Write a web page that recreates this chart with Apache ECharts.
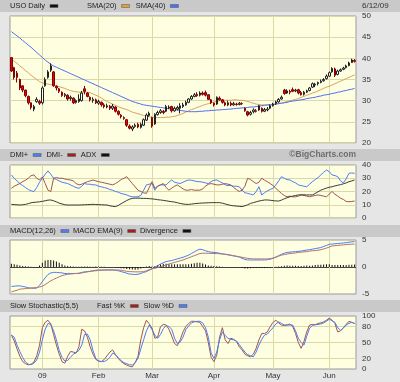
<!DOCTYPE html>
<html>
<head>
<meta charset="utf-8">
<script src="https://cdn.jsdelivr.net/npm/echarts@6/dist/echarts.min.js"></script>
<style>html,body{margin:0;padding:0;background:#e6e6e6;}#c{width:400px;height:382px;}</style>
</head>
<body>
<div id="c"></div>
<script>
const dates = [
'2008-12-16','2008-12-17','2008-12-18','2008-12-19','2008-12-22','2008-12-23','2008-12-24','2008-12-26','2008-12-29','2008-12-30','2008-12-31',
'2009-01-02','2009-01-05','2009-01-06','2009-01-07','2009-01-08','2009-01-09','2009-01-12','2009-01-13','2009-01-14','2009-01-15','2009-01-16','2009-01-20','2009-01-21','2009-01-22','2009-01-23','2009-01-26','2009-01-27','2009-01-28','2009-01-29','2009-01-30',
'2009-02-02','2009-02-03','2009-02-04','2009-02-05','2009-02-06','2009-02-09','2009-02-10','2009-02-11','2009-02-12','2009-02-13','2009-02-17','2009-02-18','2009-02-19','2009-02-20','2009-02-23','2009-02-24','2009-02-25','2009-02-26','2009-02-27',
'2009-03-02','2009-03-03','2009-03-04','2009-03-05','2009-03-06','2009-03-09','2009-03-10','2009-03-11','2009-03-12','2009-03-13','2009-03-16','2009-03-17','2009-03-18','2009-03-19','2009-03-20','2009-03-23','2009-03-24','2009-03-25','2009-03-26','2009-03-27','2009-03-30','2009-03-31',
'2009-04-01','2009-04-02','2009-04-03','2009-04-06','2009-04-07','2009-04-08','2009-04-09','2009-04-13','2009-04-14','2009-04-15','2009-04-16','2009-04-17','2009-04-20','2009-04-21','2009-04-22','2009-04-23','2009-04-24','2009-04-27','2009-04-28','2009-04-29','2009-04-30',
'2009-05-01','2009-05-04','2009-05-05','2009-05-06','2009-05-07','2009-05-08','2009-05-11','2009-05-12','2009-05-13','2009-05-14','2009-05-15','2009-05-18','2009-05-19','2009-05-20','2009-05-21','2009-05-22','2009-05-26','2009-05-27','2009-05-28','2009-05-29',
'2009-06-01','2009-06-02','2009-06-03','2009-06-04','2009-06-05','2009-06-08','2009-06-09','2009-06-10','2009-06-11','2009-06-12'];

const open = [40.2,37.8,36.5,35.0,33.5,32.5,31.0,29.5,28.0,29.8,29.8,
29.5,33.5,35.5,37.2,36.8,33.4,32.8,32.0,31.2,31.3,30.5,30.6,29.6,29.8,30.0,32.8,31.8,30.8,30.0,30.2,
29.4,29.6,29.0,28.5,28.7,28.2,28.5,27.5,26.6,26.0,25.5,24.0,23.3,23.9,24.4,23.7,24.2,25.4,26.5,
26.0,24.5,26.7,27.2,27.5,27.5,28.3,28.6,27.6,28.0,28.2,28.6,29.0,29.6,30.4,31.0,31.5,31.3,31.8,31.9,31.4,30.2,
29.4,29.2,30.6,30.2,29.5,29.0,29.4,29.0,29.2,29.1,29.3,28.2,27.4,26.8,27.4,27.6,27.8,28.2,27.5,27.8,28.2,
28.8,29.3,29.7,30.4,32.5,31.8,32.2,32.6,32.3,32.6,31.9,31.5,32.0,32.4,33.2,33.7,34.0,34.3,34.7,35.2,
35.8,36.8,37.5,36.2,37.0,37.4,37.8,38.3,39.0,39.5];
const close = [37.0,35.5,35.5,33.0,32.5,31.2,29.5,28.4,28.6,30.3,29.4,
33.0,35.0,36.8,38.2,33.5,33.0,32.2,31.2,31.5,30.4,30.8,29.5,30.0,30.4,31.8,32.2,31.0,30.2,30.3,29.5,
29.8,29.0,28.6,28.8,28.2,28.7,27.5,26.8,26.2,25.8,24.2,23.5,23.8,24.2,23.8,24.4,25.5,26.6,27.0,
24.0,26.8,27.2,27.6,27.2,28.6,28.5,27.6,28.2,28.4,28.8,29.0,29.6,30.4,31.0,31.4,31.2,31.8,31.5,31.3,30.3,29.5,
29.0,30.8,30.2,29.6,29.0,29.5,29.0,29.3,29.1,29.4,29.3,27.6,26.6,27.2,27.8,27.5,28.8,27.5,27.9,28.0,28.8,
29.2,29.7,30.3,30.8,31.7,32.3,32.0,32.2,32.5,31.8,31.4,32.0,32.3,33.0,34.0,33.9,34.3,34.6,35.0,35.8,
36.6,37.6,36.0,37.0,37.3,37.7,38.2,38.9,39.6,39.3];
const low = [36.8,35.0,34.3,32.5,32.0,30.8,29.1,27.9,27.5,29.5,29.0,
29.1,33.3,35.2,36.8,33.3,32.4,31.8,30.9,30.8,30.0,30.0,29.2,29.3,29.5,29.8,31.5,30.8,29.8,29.5,29.2,
29.0,28.6,28.2,28.2,27.8,27.8,27.2,26.5,25.8,25.5,23.8,23.2,22.8,23.6,23.5,23.4,24.0,25.2,26.2,
23.6,24.3,26.5,26.9,26.8,27.3,28.0,27.2,27.4,27.7,27.0,28.3,28.8,29.4,30.2,30.8,30.9,31.0,31.2,31.0,30.2,29.2,
28.6,29.0,30.0,29.3,28.7,28.7,28.7,28.8,28.8,28.9,29.0,27.4,26.3,26.5,27.0,27.2,27.6,27.2,27.3,27.5,28.0,
28.6,29.0,29.5,30.2,31.4,31.6,31.5,32.0,32.0,31.5,31.2,31.2,31.8,32.2,33.0,33.2,33.6,34.1,34.5,35.0,
35.6,36.6,35.6,36.0,36.8,37.2,37.6,38.1,38.9,39.0];
const high = [40.3,38.0,37.0,35.2,33.6,32.6,31.2,29.6,29.0,30.8,30.2,
33.4,35.5,37.2,38.8,37.0,33.6,33.0,32.2,31.8,31.5,31.2,30.8,30.3,31.5,32.3,33.5,32.0,31.0,30.8,30.5,
30.2,29.8,29.4,29.3,29.0,29.2,28.7,27.7,26.8,26.3,25.7,24.4,24.2,24.6,24.8,24.8,25.8,27.0,27.4,
26.2,27.0,27.6,28.0,27.8,29.0,28.9,28.8,28.6,28.8,29.4,29.5,30.0,30.6,31.3,31.8,32.0,32.2,32.2,32.4,31.5,30.4,
29.6,31.0,31.0,30.4,29.8,30.0,29.8,29.7,29.5,29.7,29.6,28.4,27.6,27.6,28.2,28.0,29.0,28.4,28.3,28.5,29.1,
29.5,30.0,30.6,31.2,32.8,32.7,32.6,33.1,32.8,32.8,32.3,32.3,32.6,33.2,34.3,34.2,34.5,35.0,35.3,36.2,
36.9,37.9,37.8,37.3,37.6,38.0,38.5,39.2,39.9,39.8];

const sma20 = [39.8,39.3,38.8,38.2,37.7,37.1,36.6,36.0,35.5,35.0,34.5,
34.2,34.0,33.9,33.8,33.7,33.5,33.3,33.1,32.9,32.6,32.4,32.2,32.1,32.0,32.0,32.0,32.0,31.9,31.6,31.3,
31.0,30.6,30.2,29.8,29.5,29.2,28.9,28.6,28.3,28.1,27.9,27.6,27.3,27.1,26.9,26.7,26.5,26.3,26.2,
26.1,26.0,26.0,26.0,26.0,26.1,26.1,26.2,26.3,26.5,26.7,27.0,27.3,27.6,27.9,28.1,28.4,28.6,28.9,29.1,29.3,29.5,
29.7,29.8,30.0,30.1,30.1,30.1,30.1,30.2,30.2,30.1,30.1,30.0,29.8,29.6,29.4,29.2,29.1,29.0,29.0,29.0,29.0,
29.1,29.2,29.3,29.4,29.6,29.8,30.0,30.1,30.3,30.5,30.8,31.0,31.3,31.5,31.8,32.0,32.3,32.6,32.9,33.2,
33.4,33.7,34.0,34.3,34.6,34.9,35.2,35.5,35.8,36.1];
const sma40 = [46.3,45.8,45.3,44.8,44.2,43.7,43.1,42.6,42.0,41.4,40.8,
40.2,39.6,39.1,38.6,38.2,37.9,37.6,37.3,37.0,36.7,36.4,36.1,35.8,35.5,35.2,34.9,34.6,34.3,34.0,33.7,
33.4,33.1,32.8,32.5,32.2,31.9,31.6,31.3,31.0,30.7,30.4,30.1,29.8,29.6,29.4,29.2,29.0,28.9,28.8,
28.7,28.6,28.5,28.4,28.3,28.2,28.1,28.0,27.9,27.8,27.7,27.6,27.5,27.4,27.4,27.4,27.4,27.5,27.5,27.6,27.6,27.7,
27.7,27.8,27.8,27.9,27.9,28.0,28.0,28.1,28.2,28.2,28.3,28.3,28.4,28.5,28.5,28.6,28.7,28.8,28.9,29.0,29.0,
29.1,29.2,29.3,29.4,29.5,29.6,29.8,29.9,30.0,30.1,30.2,30.3,30.5,30.6,30.7,30.8,31.0,31.1,31.3,31.4,
31.5,31.7,31.8,32.0,32.1,32.3,32.4,32.6,32.7,32.9];

const dmiPlus = [32.5,30,28,26,24.5,23,21.5,20.5,20,23,27,
30,33,35.5,33,30,29,28,27,26.5,26,25,24,23,22.4,24,26,25.5,25.5,25,25,
24,23.5,23,22.4,21.5,21,20,19.5,18.5,18,17.4,16.5,16,16,16,17,21,25,25.5,
26,21,24,25,25,25,27,28.7,27,26.5,26,27,28,28.7,28.5,28,27.5,27.4,27,26.5,26,27.5,
28.5,28.7,27.5,26.5,25,24.5,24.5,24,24,23.6,21,19,18.6,18,17.4,20,23.6,17.4,19,20.5,21.5,
22.4,25,28,31.2,30,29,28.7,27.5,26.5,25,24.5,24,23.6,25.5,27.4,29,30.5,32.5,34.5,36.2,
35,32.5,32,31.2,28,26.5,29.5,33.7,34,33.7];
const dmiMinus = [22.4,24,25,26,27.5,28.5,30,32,32.5,30,28.7,
31,26,21,20,30,30.5,30,30,29.5,29,28.7,28,26,25,25.5,26.5,27.4,28,28.7,28,
27.4,27,26.5,26,25.5,25,26,27.4,29,30,31.2,28.5,26,23.5,21,20,19,18.6,23,
27.4,22.4,24,25,26,23,21,22.5,24,25,23.5,22,21,21,21.5,21,21,21,22,24,25.5,26,
25.5,25,25,25.5,26,25.5,25,23,21.5,20,21,24,30,29,27.5,26,27,30,28.5,27.4,26,
24.5,22.4,20.5,18.5,17,16,16.5,16,16,16.5,17.4,17,16.5,16,16.5,17,17.4,17,16.5,16,
18,20,18,16.5,15,14,12.5,12.3,12.5,12.8];
const adx = [10.3,10.1,10,9.8,10,10.3,10.8,11.5,11.8,12,12.2,
12.6,13,13.5,13.6,13,12.2,11.2,10.6,10,9.8,9.8,9.8,9.8,9.8,9.9,10,10.1,10.2,10.3,10.2,
10.1,10,9.9,9.8,9.2,8.8,8.6,9.5,10.8,12,13.2,14.2,14.8,15,15,14.9,14.8,14.8,14.6,
14.4,14.2,13.8,13.6,13.3,13,12.6,12.3,12,11.5,11,10.6,10.3,10.3,10.5,10.8,11,11.2,11.3,11.4,11.5,11.6,
11.6,11.6,11.6,11.2,10.6,10,9.5,9.2,9,8.8,8.6,9.2,10,11,11.6,12.2,12.8,13.2,13.6,13.6,13.4,
13.1,12.9,12.8,13.5,14.5,15.3,16,16.5,17,17.4,17.5,17.5,17.4,17.4,17.4,18.5,19.8,21,21.8,22.6,
23.2,23.6,24.2,24.7,25.2,25.8,26.5,27.4,28,28.7];

const macd = [-3.6,-3.55,-3.5,-3.5,-3.6,-3.7,-3.85,-3.9,-3.95,-3.9,-3.4,
-2.7,-2.0,-1.4,-1.1,-1.0,-1.0,-1.05,-1.1,-1.2,-1.2,-1.2,-1.2,-1.2,-1.15,-1.0,-0.9,-0.85,-0.8,-0.7,-0.6,
-0.55,-0.55,-0.55,-0.55,-0.55,-0.55,-0.6,-0.7,-0.85,-1.0,-1.15,-1.3,-1.35,-1.4,-1.35,-1.2,-1.0,-0.85,-0.6,
-0.35,-0.05,0.25,0.55,0.8,1.0,1.1,1.2,1.35,1.5,1.65,1.8,2.0,2.2,2.5,2.8,3.1,3.3,3.2,3.0,2.85,2.75,
2.7,2.65,2.55,2.45,2.35,2.25,2.15,2.05,1.95,1.85,1.6,1.4,1.3,1.3,1.3,1.3,1.3,1.3,1.3,1.35,1.45,
1.6,1.85,2.1,2.35,2.55,2.7,2.75,2.8,2.85,2.9,2.95,3.05,3.15,3.2,3.3,3.4,3.5,3.6,3.8,4.0,
4.2,4.25,4.3,4.35,4.4,4.45,4.5,4.6,4.65,4.7];
const macdEma = [-4.6,-4.45,-4.3,-4.1,-4.05,-4.0,-3.95,-3.9,-3.85,-3.8,-3.7,
-3.55,-3.25,-2.9,-2.55,-2.3,-2.05,-1.8,-1.6,-1.45,-1.35,-1.3,-1.25,-1.2,-1.2,-1.1,-1.0,-0.9,-0.8,-0.74,-0.7,
-0.65,-0.6,-0.58,-0.55,-0.55,-0.55,-0.55,-0.55,-0.6,-0.7,-0.8,-0.85,-0.87,-0.9,-0.9,-0.9,-0.85,-0.7,-0.5,
-0.3,-0.25,-0.1,0.05,0.2,0.4,0.55,0.7,0.85,1.0,1.15,1.3,1.5,1.7,1.9,2.1,2.3,2.5,2.55,2.55,2.55,2.5,
2.5,2.5,2.45,2.4,2.35,2.3,2.2,2.1,2.0,1.9,1.8,1.7,1.6,1.55,1.5,1.5,1.5,1.5,1.5,1.5,1.55,
1.65,1.8,2.0,2.2,2.3,2.4,2.5,2.55,2.6,2.7,2.75,2.8,2.85,2.95,3.0,3.05,3.1,3.2,3.35,3.5,
3.7,3.9,3.95,4.0,4.05,4.1,4.15,4.2,4.22,4.25];
const divergence = [0.6,0.5,0.4,0.3,0.2,0.15,0.1,0.05,-0.1,-0.1,0.3,
0.8,1.2,1.3,1.3,1.2,1.0,0.8,0.5,0.3,0.2,0.15,0.1,0.05,0.05,0.1,0.1,0.1,0.05,0.05,0.1,
0.1,0.05,0.05,0,0,0,-0.05,-0.15,-0.25,-0.3,-0.35,-0.4,-0.45,-0.5,-0.45,-0.3,-0.15,0.1,0.2,
0.1,0.2,0.35,0.5,0.6,0.6,0.55,0.5,0.5,0.5,0.5,0.5,0.5,0.5,0.6,0.7,0.8,0.8,0.65,0.45,0.3,0.25,
0.2,0.15,0.1,0.05,0,-0.05,-0.05,-0.05,-0.05,-0.05,-0.2,-0.3,-0.3,-0.25,-0.2,-0.2,-0.2,-0.2,-0.2,-0.15,-0.1,
-0.05,0.05,0.1,0.15,0.25,0.3,0.25,0.25,0.25,0.2,0.2,0.25,0.3,0.25,0.3,0.35,0.4,0.4,0.45,0.5,
0.5,0.35,0.35,0.35,0.35,0.35,0.35,0.4,0.43,0.45];

const fastK = [64,53,38,24,14,10,8,9,13,25,45,
78,88,92,85,65,45,28,14,11,24,33,32,30,42,75,72,60,42,28,18,
15,14,18,25,32,36,27,20,14,10,7.5,5,4,12,24,55,78,92,85,
77,58,60,80,84,83,75,62,48,44,55,70,80,86,90,90,89,88,80,72,50,22,
14,26,60,78,55,48,58,56,52,42,36,28,25,23,28,39,55,67,67,70,80,
88,92,87,83,82,83,85,80,67,50,39,52,70,83,84,83,86,87,89,92,
96,92,86,70,72,78,84,90,88,86];
const slowD = [64,60,45,33,22,13,9,8,11,17,32,
55,75,86,84,72,55,35,22,15,16,22,28,31,35,45,65,66,55,35,20,
15,14,14,17,22,30,27,21,16,12,10,8,7.5,12,20,38,55,72,83,
74,64,58,65,76,82,80,75,58,48,51,60,74,81,87,89,90,90,87,78,60,30,
20,32,55,70,63,58,56,55,53,46,39,32,27,25,23,32,45,56,64,66,72,
78,85,89,86,83,83,83,83,72,58,50,45,62,77,82,84,84,85,87,90,
94,91,88,78,73,77,83,86,88,86];

const monthNames = {'01':'09','02':'Feb','03':'Mar','04':'Apr','05':'May','06':'Jun','12':'Dec'};
const stochTicks = [0,20,50,80,100];

const isMonthStart = i => i > 0 && dates[i].slice(0,7) !== dates[i-1].slice(0,7);

const FONT = 'Liberation Sans';
const GRIDC = '#dcd9a8';
const T = 'rgba(0,0,0,0)';
const grids = [
  {left:10, width:346, top:16, height:127},
  {left:10, width:346, top:165, height:53},
  {left:10, width:346, top:240, height:54},
  {left:10, width:346, top:316, height:53}
].map(g => Object.assign(g, {show:true, backgroundColor:'#fefee1', borderColor:'#9a9a9a', borderWidth:1}));

const xAxes = [0,1,2,3].map(g => ({
  type:'category', gridIndex:g, data:dates, boundaryGap:true,
  axisLine:{show:false}, axisTick:{show:false},
  axisLabel:{show:g===3, interval:(i)=>isMonthStart(i), formatter:(v)=>monthNames[v.slice(5,7)],
    fontSize:8, color:'#333', fontFamily:FONT, margin:3},
  splitLine:{show:true, alignWithLabel:true, interval:(i)=>isMonthStart(i), lineStyle:{color:GRIDC, width:1}}
}));

const ylab = {fontSize:8, color:'#333', fontFamily:FONT, margin:6};
const yAxes = [
  {gridIndex:0, type:'value', position:'right', min:20, max:50, interval:5,
   axisLine:{show:false}, axisTick:{show:false}, axisLabel:ylab, splitLine:{lineStyle:{color:GRIDC}}},
  {gridIndex:1, type:'value', position:'right', min:0, max:40, interval:10,
   axisLine:{show:false}, axisTick:{show:false}, axisLabel:ylab, splitLine:{lineStyle:{color:GRIDC}}},
  {gridIndex:2, type:'value', position:'right', min:-5, max:5, interval:5,
   axisLine:{show:false}, axisTick:{show:false}, axisLabel:ylab, splitLine:{lineStyle:{color:[T,'#444',T]}}},
  {gridIndex:3, type:'value', position:'right', min:0, max:100, interval:10,
   axisLine:{show:false}, axisTick:{show:false},
   axisLabel:Object.assign({}, ylab, {formatter:(v)=>stochTicks.indexOf(v) >= 0 ? String(v) : ''}),
   splitLine:{lineStyle:{color:[T,T,GRIDC,T,T,GRIDC,T,T,GRIDC,T,T]}}}
];

const line = (name, data, color, g) => ({
  name, type:'line', data, xAxisIndex:g, yAxisIndex:g, showSymbol:false, symbol:'none',
  lineStyle:{color, width:1}, itemStyle:{color}, silent:true, z:3
});

const C = {sma20:'#d9a35e', sma40:'#4f6ff0', plus:'#4d7cf5', minus:'#a0554e', adx:'#3a3a3a',
  macd:'#4d7cf5', ema:'#b0766c', k:'#a0554e', d:'#4d7cf5'};

const series = [
  {name:'USO Daily', type:'candlestick', xAxisIndex:0, yAxisIndex:0, barWidth:2,
   data: dates.map((d,i)=>[open[i], close[i], low[i], high[i]]),
   itemStyle:{color:'#ffffff', color0:'#cc1010', borderColor:'#222', borderColor0:'#8a0000', borderWidth:1}, z:4},
  line('SMA(20)', sma20, C.sma20, 0),
  line('SMA(40)', sma40, C.sma40, 0),
  line('DMI+', dmiPlus, C.plus, 1),
  line('DMI-', dmiMinus, C.minus, 1),
  line('ADX', adx, C.adx, 1),
  {name:'Divergence', type:'bar', xAxisIndex:2, yAxisIndex:2, data:divergence, barWidth:1,
   itemStyle:{color:'#111'}, silent:true, z:2},
  line('MACD(12,26)', macd, C.macd, 2),
  line('MACD EMA(9)', macdEma, C.ema, 2),
  line('Fast %K', fastK, C.k, 3),
  line('Slow %D', slowD, C.d, 3)
];

const leg = (items, left, top, gap) => ({
  data: items.map(([name, color]) => ({name, itemStyle:{color, borderColor:'#555', borderWidth:0.5}})),
  left, top, align:'right', icon:'rect', itemWidth:8, itemHeight:3, padding:0, itemGap:gap,
  selectedMode:false,
  textStyle:{fontSize:7.5, color:'#222', fontFamily:FONT}
});

const option = {
  animation:false,
  backgroundColor:'#e6e6e6',
  grid: grids,
  xAxis: xAxes,
  yAxis: yAxes,
  legend: [
    leg([['USO Daily', '#111']], 10, 2, 4),
    leg([['SMA(20)', '#e0a040'], ['SMA(40)', C.sma40]], 87, 2, 6),
    leg([['DMI+', C.plus], ['DMI-', '#a02020'], ['ADX', '#111']], 10, 151, 5),
    leg([['MACD(12,26)', C.macd], ['MACD EMA(9)', '#a02020'], ['Divergence', '#111']], 10, 227, 4),
    leg([['Fast %K', '#a02020'], ['Slow %D', C.d]], 97, 302, 5)
  ],
  graphic: [
    {type:'rect', z:-10, shape:{x:0, y:0, width:400, height:12}, style:{fill:'#c9c9c9'}},
    {type:'rect', z:-10, shape:{x:0, y:149, width:400, height:12}, style:{fill:'#c9c9c9'}},
    {type:'rect', z:-10, shape:{x:0, y:225, width:400, height:12}, style:{fill:'#c9c9c9'}},
    {type:'rect', z:-10, shape:{x:0, y:300, width:400, height:12}, style:{fill:'#c9c9c9'}},
    {type:'text', left:362, top:2, style:{text:'6/12/09', fontSize:8, fill:'#333', fontFamily:FONT}},
    {type:'text', right:44, top:150, style:{text:'\u00A9BigCharts.com', fontSize:8.5, fontWeight:'bold', fill:'#6e6e6e', fontFamily:FONT}},
    {type:'text', left:10, top:302, style:{text:'Slow Stochastic(5,5)', fontSize:7.5, fill:'#222', fontFamily:FONT}}
  ],
  series
};

const chart = echarts.init(document.getElementById('c'), null, {renderer:'canvas'});
chart.setOption(option);
</script>
</body>
</html>
